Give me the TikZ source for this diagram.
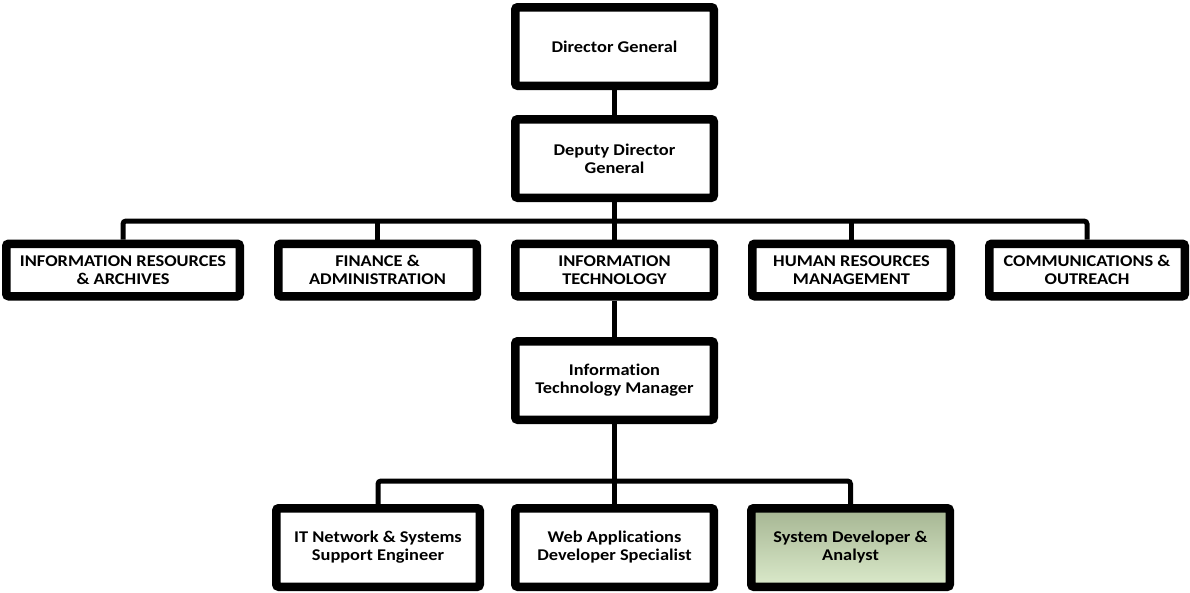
\documentclass[tikz,border=0pt]{standalone}
\usepackage{fontspec}
\setmainfont{Carlito}[FakeStretch=1.12, Ligatures=NoCommon]
\begin{document}
\begin{tikzpicture}[x=1pt,y=-1pt,
  box/.style={draw=black, line width=8.5pt, rounded corners=2.5pt, fill=white,
    minimum width=198.5pt, minimum height=78.5pt, inner sep=0pt, align=center,
    font=\fontsize{16.4}{18}\selectfont\bfseries},
  row/.style={box, minimum height=52.5pt},
  pick/.style={box, top color=sdtop, bottom color=sdbottom},
  conn/.style={draw=black, line width=5pt, rounded corners=3pt}]
\definecolor{sdtop}{HTML}{A5B592}
\definecolor{sdbottom}{HTML}{DBEACB}
\useasboundingbox (0,0) rectangle (1190,592);

% top of the chart
\node[box] (dg)  at (614.5,46.5)  {Director General};
\node[box] (ddg) at (614.5,158.5) {Deputy Director\\General};

% divisions
\node[row, minimum width=233.5pt] (ira) at (123,270)  {INFORMATION RESOURCES\\\& ARCHIVES};
\node[row] (fa)  at (377.5,270) {FINANCE \&\\ADMINISTRATION};
\node[row] (it)  at (614.5,270) {INFORMATION\\TECHNOLOGY};
\node[row] (hrm) at (851.5,270) {HUMAN RESOURCES\\MANAGEMENT};
\node[row, minimum width=195.5pt] (co) at (1087,270) {COMMUNICATIONS \&\\OUTREACH};

% IT unit
\node[box] (itm) at (614.5,380.5) {Information\\Technology Manager};
\node[box, minimum width=203.5pt] (itn) at (378,547.5) {IT Network \& Systems\\Support Engineer};
\node[box] (web) at (614.5,547.5) {Web Applications\\Developer Specialist};
\node[pick] (sd) at (850.5,547.5) {System Developer \&\\Analyst};

% bus lines
\coordinate (bus)  at (614.5,221);
\coordinate (lbus) at (614.5,481);

\draw[conn] (dg) -- (ddg);
\draw[conn] (ddg) -- (it);
\draw[conn] (ira.north) |- (bus) -| (co.north);
\draw[conn] (bus -| fa.north) -- (fa.north);
\draw[conn] (bus -| hrm.north) -- (hrm.north);
\draw[conn] (it) -- (itm);
\draw[conn] (itm) -- (web);
\draw[conn] (itn.north) |- (lbus) -| (sd.north);
\end{tikzpicture}
\end{document}
